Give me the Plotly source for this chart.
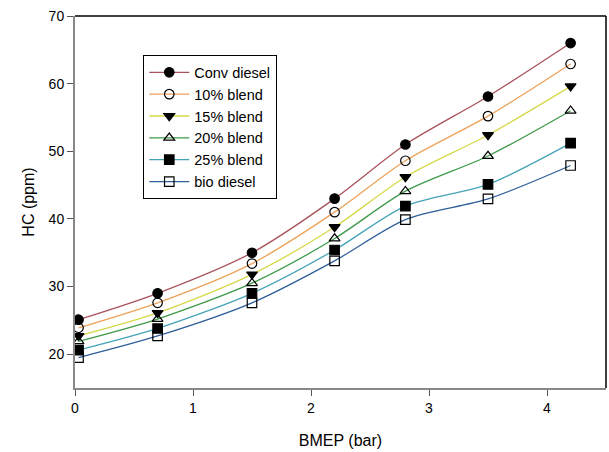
import plotly.graph_objects as go

bmep = [0.03, 0.7, 1.5, 2.2, 2.8, 3.5, 4.2]
series_names = ["Conv diesel", "10% blend", "15% blend", "20% blend", "25% blend", "bio diesel"]
conv_diesel = [25.1, 29.0, 35.0, 43.0, 51.0, 58.1, 66.0]
blend_10 = [23.9, 27.6, 33.4, 41.0, 48.6, 55.2, 62.9]
blend_15 = [22.7, 26.1, 31.8, 38.8, 46.2, 52.4, 59.6]
blend_20 = [21.9, 25.2, 30.5, 37.1, 44.1, 49.3, 56.0]
blend_25 = [20.6, 23.8, 29.0, 35.4, 41.9, 45.1, 51.2]
bio_diesel = [19.5, 22.7, 27.6, 33.8, 39.9, 42.95, 47.9]
all_values = [conv_diesel, blend_10, blend_15, blend_20, blend_25, bio_diesel]

colors = ["#a8525a", "#eea25a", "#d6d84a", "#3e9a48", "#45a3b8", "#2f5f9a"]
symbols = ["circle", "circle-open", "triangle-down", "triangle-up-open", "square", "square-open"]

fig = go.Figure()
for name, vals, col, sym in zip(series_names, all_values, colors, symbols):
    fig.add_trace(go.Scatter(
        x=bmep, y=vals, name=name, mode="lines+markers",
        line=dict(color=col, width=1.3, shape="spline", smoothing=0.8),
        marker=dict(symbol=sym, size=9.5, color="black",
                    line=dict(color="black", width=1.2)),
    ))

font_family = "Liberation Sans, Arial, sans-serif"
fig.update_layout(
    width=609, height=452,
    margin=dict(l=75, r=3, t=16, b=64, autoexpand=False),
    paper_bgcolor="white", plot_bgcolor="white",
    font=dict(family=font_family, size=14, color="black"),
    showlegend=True,
    legend=dict(x=0.128, y=0.895, xanchor="left", yanchor="top",
                bordercolor="black", borderwidth=1.3, bgcolor="white",
                font=dict(size=14.5, family=font_family), tracegroupgap=0,
                itemwidth=40),
    xaxis=dict(range=[0, 4.5], tickvals=[0, 1, 2, 3, 4], ticks="outside",
               ticklen=6, tickcolor="#555", showgrid=False, zeroline=False,
               showline=True, linecolor="#888", linewidth=2, automargin=False,
               tickfont=dict(size=14),
               title=dict(text="BMEP (bar)", font=dict(size=16), standoff=20)),
    yaxis=dict(range=[15, 70], tickvals=[20, 30, 40, 50, 60, 70], ticks="outside",
               ticklen=6, tickcolor="#555", showgrid=False, zeroline=False,
               showline=True, linecolor="#888", linewidth=2, automargin=False,
               tickfont=dict(size=14),
               title=dict(text="HC (ppm)", font=dict(size=16), standoff=10)),
)
fig.add_shape(type="line", xref="paper", yref="paper", x0=0, x1=1, y0=1, y1=1,
              line=dict(color="black", width=1.5))
fig.add_shape(type="line", xref="paper", yref="paper", x0=1, x1=1, y0=0, y1=1,
              line=dict(color="black", width=1.5))

fig.write_html("out.html", config={"displayModeBar": False},
               post_script="document.body.style.margin='0';document.body.style.overflow='hidden';")
